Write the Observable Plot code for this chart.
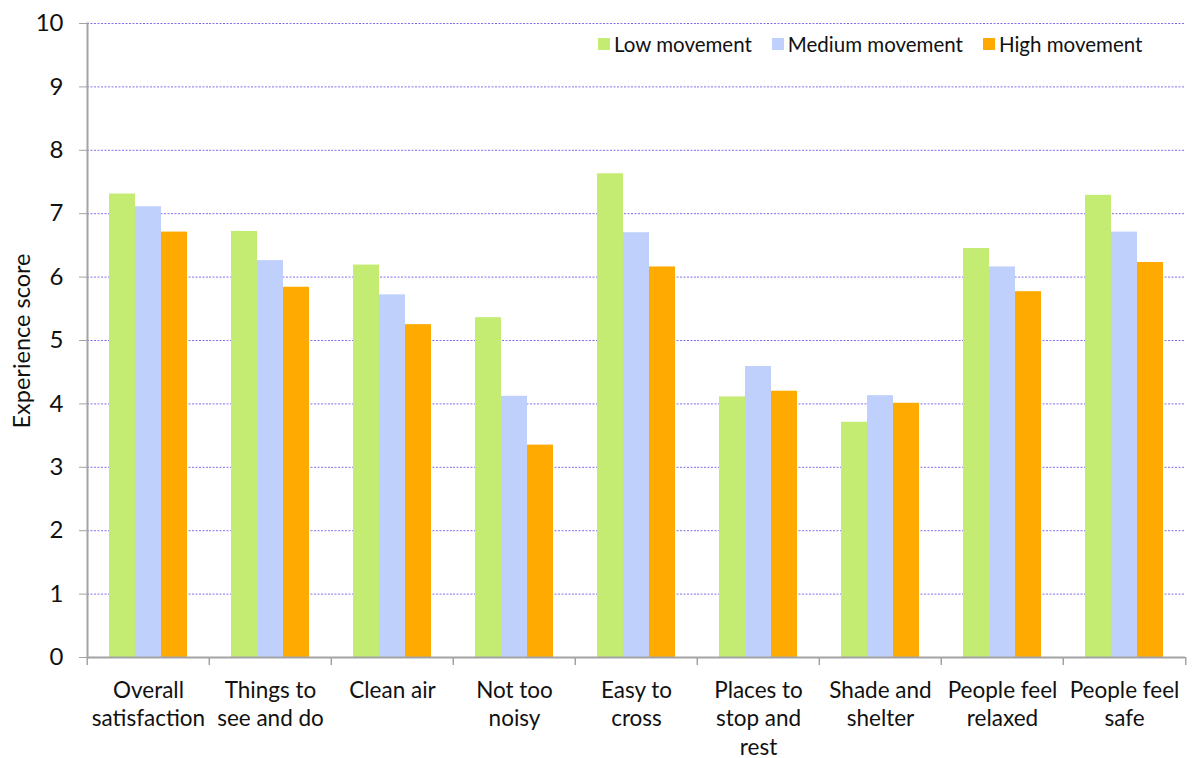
<!DOCTYPE html>
<html><head><meta charset="utf-8">
<script src="https://cdn.jsdelivr.net/npm/d3@7"></script>
<script src="https://cdn.jsdelivr.net/npm/@observablehq/plot@0.6"></script>
<style>
body{margin:0;background:#fff;}
#wrap{position:relative;width:1195px;height:758px;font-family:Lato,sans-serif;color:#111;}
#legend{position:absolute;left:598px;top:32px;display:flex;font-size:20.5px;line-height:24px;}
.item{display:flex;align-items:center;margin-right:20px;}
.sw{width:12px;height:12px;margin-right:4px;}
#ylabel{position:absolute;left:21px;top:341px;font-size:23.5px;white-space:nowrap;transform:translate(-50%,-50%) rotate(-90deg);}
</style></head><body><div id="wrap"></div>
<script>
const categories = ["Overall satisfaction","Things to see and do","Clean air","Not too noisy","Easy to cross","Places to stop and rest","Shade and shelter","People feel relaxed","People feel safe"];
const categoryLabels = ["Overall\nsatisfaction","Things to\nsee and do","Clean air","Not too\nnoisy","Easy to\ncross","Places to\nstop and\nrest","Shade and\nshelter","People feel\nrelaxed","People feel\nsafe"];
const series = ["Low movement","Medium movement","High movement"];
const lowValues = [7.31,6.72,6.19,5.36,7.63,4.11,3.71,6.45,7.29];
const mediumValues = [7.11,6.26,5.72,4.12,6.70,4.59,4.13,6.16,6.71];
const highValues = [6.71,5.84,5.25,3.35,6.16,4.20,4.01,5.77,6.23];
const yTicks = [0,1,2,3,4,5,6,7,8,9,10];
const colors = ["#c4eb72","#bfd0fd","#ffaa00"];
const yLabel = "Experience score";

const seriesValues = [lowValues, mediumValues, highValues];
const data = categories.flatMap((c, i) => series.map((s, j) => ({category: c, series: s, value: seriesValues[j][i]})));
const labelMap = new Map(categories.map((c, i) => [c, categoryLabels[i]]));

const W = 1195, H = 758, ML = 85, MR = 8, MT = 23, MB = 101;
const bw = (W - ML - MR) / categories.length;
const axisColor = "#a3a3a3";

const chart = Plot.plot({
  width: W, height: H, marginLeft: ML, marginRight: MR, marginTop: MT, marginBottom: MB,
  style: {fontFamily: "Lato, sans-serif", background: "white", color: "#111"},
  fx: {domain: categories, padding: 0, label: null},
  x: {domain: series, paddingInner: 0, paddingOuter: 0.79, axis: null},
  y: {domain: [0, 10], label: null},
  color: {domain: series, range: colors},
  marks: [
    Plot.gridY(yTicks.filter(d => d > 0), {stroke: "#8a6cf0", strokeOpacity: 1, strokeDasharray: "2,1.5", strokeWidth: 1}),
    Plot.barY(data, {fx: "category", x: "series", y: "value", fill: "series"}),
    Plot.ruleY([0], {stroke: axisColor, strokeWidth: 2}),
    Plot.frame({anchor: "left", facetAnchor: "left", stroke: axisColor, strokeWidth: 2}),
    Plot.axisY({ticks: yTicks, tickSize: 8, tickPadding: 16, fontSize: 24, stroke: axisColor, fill: "#111", label: null}),
    Plot.axisFx({anchor: "bottom", tickSize: 0, tickPadding: 20, fontSize: 22.5, lineHeight: 1.27, fill: "#111", tickFormat: d => labelMap.get(d), label: null}),
    Plot.axisFx({anchor: "bottom", tickSize: 8, tickFormat: () => "", dx: -bw / 2, stroke: axisColor, strokeWidth: 1.5, label: null}),
    Plot.axisFx({anchor: "bottom", ticks: [categories[categories.length - 1]], tickSize: 8, tickFormat: () => "", dx: bw / 2, stroke: axisColor, strokeWidth: 1.5, label: null})
  ]
});

const wrap = document.getElementById("wrap");
wrap.appendChild(chart);
const legend = document.createElement("div");
legend.id = "legend";
series.forEach((s, i) => {
  const item = document.createElement("div");
  item.className = "item";
  const sw = document.createElement("span");
  sw.className = "sw";
  sw.style.background = colors[i];
  const t = document.createElement("span");
  t.textContent = s;
  item.appendChild(sw); item.appendChild(t);
  legend.appendChild(item);
});
wrap.appendChild(legend);
const yl = document.createElement("div");
yl.id = "ylabel";
yl.textContent = yLabel;
wrap.appendChild(yl);
</script></body></html>
